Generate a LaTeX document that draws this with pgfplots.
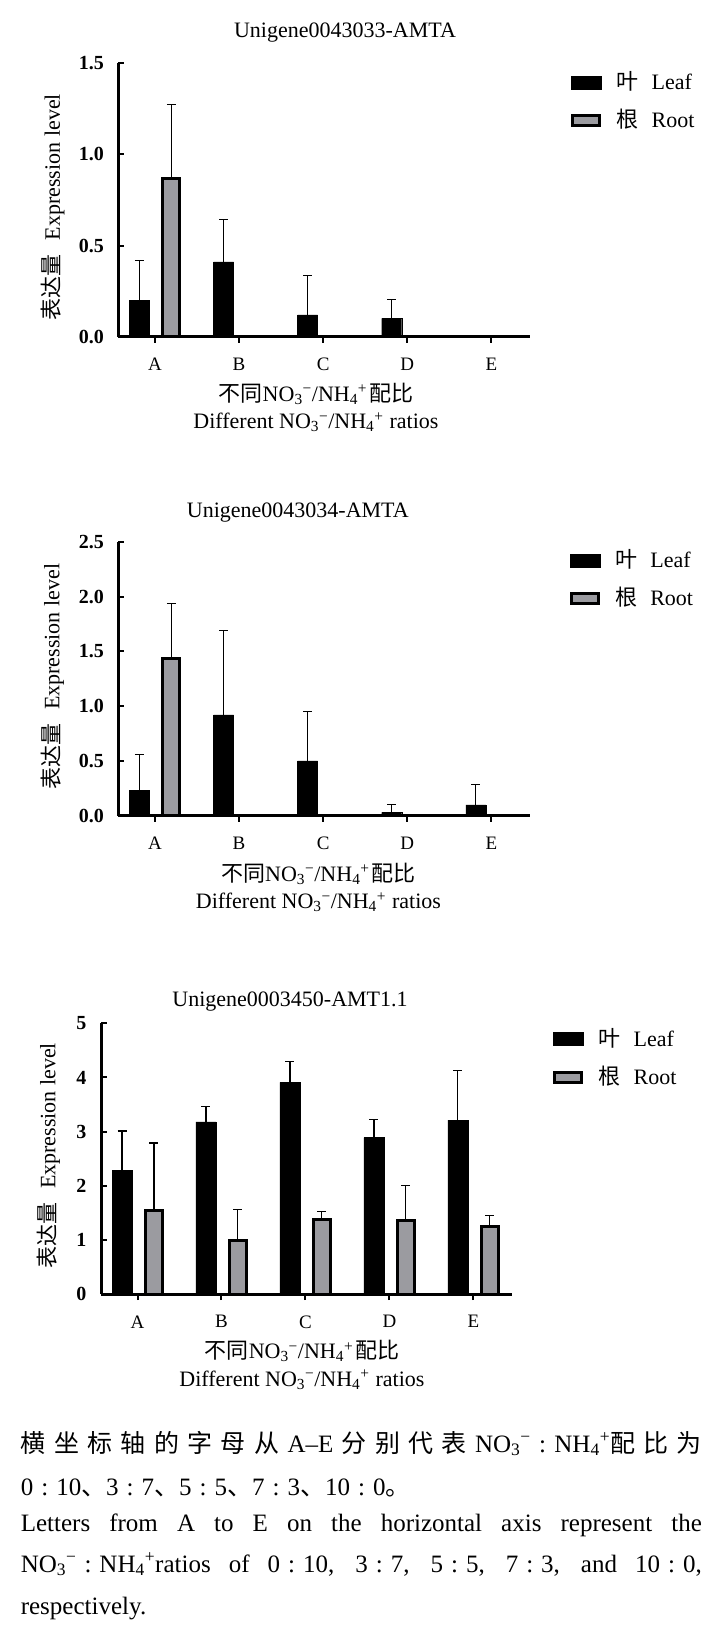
\documentclass[border=0pt]{standalone}
\usepackage{pgfplots}
\pgfplotsset{compat=1.18}
\usepackage{fontspec}
\setmainfont{Liberation Serif}
\newfontfamily\cjk{Noto Sans CJK SC}
\definecolor{rootgray}{RGB}{155,155,160}
\newcommand{\fs}[1]{\fontsize{#1}{#1}\selectfont}
\newcommand{\ion}[2]{\textsubscript{#1}\textsuperscript{#2}}
\pgfplotsset{
 mychart/.style={
  scale only axis,
  axis lines=left,
  axis line style={line width=3pt,-},
  axis on top,
  xmin=-0.435, xmax=4.46, ymin=0,
  xtick={0,1,2,3,4}, xticklabels={A,B,C,D,E},
  tick align=inside,
  major tick length=6pt,
  every tick/.style={line width=2pt,black},
  x tick label style={font=\fs{19}, yshift=-12pt},
  y tick label style={font=\fs{20}\bfseries, xshift=-11pt},
  /pgf/number format/assume math mode=true,
  ybar,
  label style={font=\fontsize{22}{27.5}\selectfont},
  every axis title/.style={font=\fs{22}},
  legend style={draw=none, fill=none, font=\fs{22}, anchor=north west, inner sep=0pt, row sep=18pt,
    nodes={inner sep=0pt, text height=17pt, text depth=3pt},
    /tikz/every odd column/.append style={column sep=15pt}},
  legend cell align=left,
 },
 errs/.style={
   /pgfplots/error bars/y dir=plus, /pgfplots/error bars/y explicit,
   /pgfplots/error bars/error bar style={line width=1.2pt, black},
   /pgfplots/error bars/error mark options={rotate=90, line width=1.2pt, mark size=4.5pt, black}},
 leaf/.style={fill=black, draw=black, line width=0.4pt, bar width=20pt, bar shift=-15.5pt,
   legend image code/.code={\fill[black] (0pt,-6.5pt) rectangle (30pt,6.5pt);}, errs},
 root/.style={fill=rootgray, draw=black, line width=3pt, bar width=17pt, bar shift=16.4pt,
   legend image code/.code={\draw[fill=rootgray, line width=3pt] (1.5pt,-5pt) rectangle (28.5pt,5pt);}, errs},
}
\begin{document}
\begin{tikzpicture}[x=1pt,y=1pt]
\useasboundingbox (0,0) rectangle (721,-1635);
% ---------- chart 1
\begin{axis}[mychart, at={(118.4pt,-336.7pt)}, anchor=south west,
  width=411.6pt, height=273.4pt, ymax=1.5, ytick={0,0.5,1,1.5},
  yticklabel style={/pgf/number format/.cd, fixed, fixed zerofill, precision=1},
  title={Unigene0043033-AMTA}, title style={at={(0.5505,1.1108)}, anchor=center},
  ylabel={{\cjk 表达量}\hspace{14pt}Expression level},
  ylabel style={at={(axis description cs:-0.159,0.474)}, anchor=center},
  xlabel={{\cjk 不同}NO\ion{3}{−}/NH\ion{4}{+}\hspace{2pt}{\cjk 配比}\\Different NO\ion{3}{−}/NH\ion{4}{+}\hspace{6pt}ratios},
  xlabel style={at={(axis description cs:0.48,-0.259)}, anchor=center, align=center},
  legend style={at={(1.0996,0.968)}}]
\addplot[leaf] coordinates {(0,0.20) +- (0,0.22) (1,0.41) +- (0,0.235) (2,0.12) +- (0,0.215) (3,0.10) +- (0,0.105) (4,0) +- (0,0)};
\addlegendentry{{\cjk 叶}\hspace{13pt}Leaf}
\addplot[root] coordinates {(0,0.87) +- (0,0.405) (1,0) +- (0,0) (2,0) +- (0,0) (3,0) +- (0,0) (4,0) +- (0,0)};
\addlegendentry{{\cjk 根}\hspace{13pt}Root}
\end{axis}
% ---------- chart 2
\begin{axis}[mychart, at={(118.4pt,-815.7pt)}, anchor=south west,
  width=411.6pt, height=274pt, ymax=2.5, ytick={0,0.5,1,1.5,2,2.5},
  yticklabel style={/pgf/number format/.cd, fixed, fixed zerofill, precision=1},
  title={Unigene0043034-AMTA}, title style={at={(0.436,1.108)}, anchor=center},
  ylabel={{\cjk 表达量}\hspace{14pt}Expression level},
  ylabel style={at={(axis description cs:-0.16,0.507)}, anchor=center},
  xlabel={{\cjk 不同}NO\ion{3}{−}/NH\ion{4}{+}\hspace{2pt}{\cjk 配比}\\Different NO\ion{3}{−}/NH\ion{4}{+}\hspace{6pt}ratios},
  xlabel style={at={(axis description cs:0.486,-0.261)}, anchor=center, align=center},
  legend style={at={(1.0965,0.9697)}}]
\addplot[leaf] coordinates {(0,0.23) +- (0,0.325) (1,0.92) +- (0,0.77) (2,0.50) +- (0,0.45) (3,0.03) +- (0,0.07) (4,0.10) +- (0,0.185)};
\addlegendentry{{\cjk 叶}\hspace{13pt}Leaf}
\addplot[root] coordinates {(0,1.43) +- (0,0.505) (1,0) +- (0,0) (2,0) +- (0,0) (3,0) +- (0,0) (4,0) +- (0,0)};
\addlegendentry{{\cjk 根}\hspace{13pt}Root}
\end{axis}
% ---------- chart 3
\begin{axis}[mychart, at={(101pt,-1294pt)}, anchor=south west,
  width=411pt, height=270.7pt, ymax=5, ytick={0,1,2,3,4,5},
  title={Unigene0003450-AMT1.1}, title style={at={(0.46,1.08)}, anchor=center},
  ylabel={{\cjk 表达量}\hspace{14pt}Expression level},
  ylabel style={at={(axis description cs:-0.128,0.51)}, anchor=center},
  xlabel={{\cjk 不同}NO\ion{3}{−}/NH\ion{4}{+}\hspace{2pt}{\cjk 配比}\\Different NO\ion{3}{−}/NH\ion{4}{+}\hspace{6pt}ratios},
  xlabel style={at={(axis description cs:0.489,-0.2616)}, anchor=center, align=center},
  legend style={at={(1.0998,0.979)}}]
\addplot[leaf] coordinates {(0,2.28) +- (0,0.73) (1,3.18) +- (0,0.29) (2,3.91) +- (0,0.38) (3,2.89) +- (0,0.34) (4,3.21) +- (0,0.92)};
\addlegendentry{{\cjk 叶}\hspace{13pt}Leaf}
\addplot[root] coordinates {(0,1.55) +- (0,1.24) (1,0.99) +- (0,0.57) (2,1.38) +- (0,0.15) (3,1.36) +- (0,0.65) (4,1.25) +- (0,0.20)};
\addlegendentry{{\cjk 根}\hspace{13pt}Root}
\end{axis}
% ---------- caption
\node[anchor=base west, inner sep=0pt, font=\fs{25}] at (20.6,-1452)
 {\makebox[681pt][s]{{\cjk 横}\hfil{\cjk 坐}\hfil{\cjk 标}\hfil{\cjk 轴}\hfil{\cjk 的}\hfil{\cjk 字}\hfil{\cjk 母}\hfil{\cjk 从}\hfil A–E\hfil{\cjk 分}\hfil{\cjk 别}\hfil{\cjk 代}\hfil{\cjk 表}\hfil NO\textsubscript{3}\textsuperscript{−}\hfil :\hfil NH\textsubscript{4}\textsuperscript{+}{\cjk 配}\hfil{\cjk 比}\hfil{\cjk 为}}};
\node[anchor=base west, inner sep=0pt, font=\fs{25}] at (20.6,-1495)
 {0\hspace{8pt}:\hspace{8pt}10{\cjk 、}3\hspace{8pt}:\hspace{8pt}7{\cjk 、}5\hspace{8pt}:\hspace{8pt}5{\cjk 、}7\hspace{8pt}:\hspace{8pt}3{\cjk 、}10\hspace{8pt}:\hspace{8pt}0{\cjk 。}};
\node[anchor=base west, inner sep=0pt, font=\fs{25}] at (20.6,-1531)
 {\makebox[681pt][s]{Letters from A to E on the horizontal axis represent the}};
\node[anchor=base west, inner sep=0pt, font=\fs{25}] at (20.6,-1572)
 {\makebox[681pt][s]{NO\textsubscript{3}\textsuperscript{−}\hspace{8pt}:\hspace{8pt}NH\textsubscript{4}\textsuperscript{+}ratios of 0\hspace{8pt}:\hspace{8pt}10, 3\hspace{8pt}:\hspace{8pt}7, 5\hspace{8pt}:\hspace{8pt}5, 7\hspace{8pt}:\hspace{8pt}3, and 10\hspace{8pt}:\hspace{8pt}0,}};
\node[anchor=base west, inner sep=0pt, font=\fs{25}] at (20.6,-1614) {respectively.};
\end{tikzpicture}
\end{document}
